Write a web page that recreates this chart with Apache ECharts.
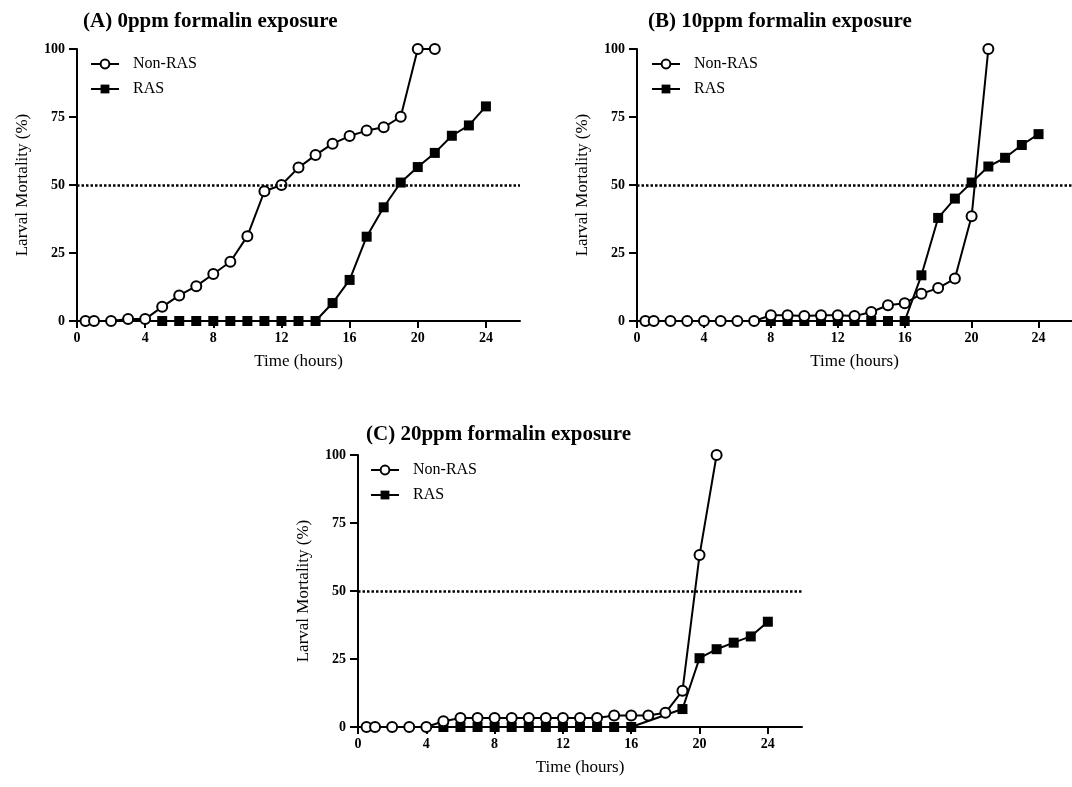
<!DOCTYPE html>
<html>
<head>
<meta charset="utf-8">
<script src="https://cdn.jsdelivr.net/npm/echarts@6/dist/echarts.min.js"></script>
<style>
html,body{margin:0;padding:0;background:#fff;}
#chart{width:1072px;height:787px;}
</style>
</head>
<body>
<div id="chart"></div>
<script>
// ---- data ----
const panelTitles = ['(A) 0ppm formalin exposure', '(B) 10ppm formalin exposure', '(C) 20ppm formalin exposure'];
const seriesNames = ['Non-RAS', 'RAS'];
const xTickValues = [0, 4, 8, 12, 16, 20, 24];
const yTickValues = [0, 25, 50, 75, 100];
const thresholdLevel = 50;

const hoursNonRAS = [0.5, 1, 2, 3, 4, 5, 6, 7, 8, 9, 10, 11, 12, 13, 14, 15, 16, 17, 18, 19, 20, 21];

const hoursRAS_A = [5, 6, 7, 8, 9, 10, 11, 12, 13, 14, 15, 16, 17, 18, 19, 20, 21, 22, 23, 24];
const nonRAS_A = [0, 0, 0, 0.7, 0.7, 5.2, 9.4, 12.8, 17.3, 21.8, 31.2, 47.7, 50, 56.4, 61, 65.2, 68, 70, 71.2, 75.1, 100, 100];
const ras_A = [0, 0, 0, 0, 0, 0, 0, 0, 0, 0, 6.6, 15.1, 31, 41.8, 50.9, 56.6, 61.8, 68.1, 71.9, 78.9];

const hoursRAS_B = [8, 9, 10, 11, 12, 13, 14, 15, 16, 17, 18, 19, 20, 21, 22, 23, 24];
const nonRAS_B = [0, 0, 0, 0, 0, 0, 0, 0, 2.1, 2.1, 1.8, 2.1, 2.1, 1.8, 3.3, 5.8, 6.5, 10, 12.1, 15.6, 38.5, 100];
const ras_B = [0, 0, 0, 0, 0, 0, 0, 0, 0, 16.8, 37.9, 45, 50.9, 56.8, 60, 64.7, 68.7];

const hoursRAS_C = [5, 6, 7, 8, 9, 10, 11, 12, 13, 14, 15, 16, 17, 18, 19, 20, 21, 22, 23, 24];
const nonRAS_C = [0, 0, 0, 0, 0, 2.1, 3.3, 3.3, 3.3, 3.3, 3.3, 3.3, 3.3, 3.3, 3.3, 4.2, 4.2, 4.2, 5.2, 13.3, 63.2, 100];
const ras_C = [0, 0, 0, 0, 0, 0, 0, 0, 0, 0, 0, 0, null, null, 6.6, 25.3, 28.6, 31, 33.3, 38.7];

// ---- build ----
const FONT = '"Liberation Serif", "DejaVu Serif", serif';
const zip = (xs, ys) => xs.map((x, i) => [x, ys[i]]);

const panels = [
  { nonX: hoursNonRAS, nonY: nonRAS_A, rasX: hoursRAS_A, rasY: ras_A },
  { nonX: hoursNonRAS, nonY: nonRAS_B, rasX: hoursRAS_B, rasY: ras_B },
  { nonX: hoursNonRAS, nonY: nonRAS_C, rasX: hoursRAS_C, rasY: ras_C }
];

const grids = [
  { left: 77, top: 49, right: 552, bottom: 466 },
  { left: 637, top: 49, right: -11, bottom: 466 },
  { left: 358, top: 455, right: 270, bottom: 60 }
];
const titlePos = [
  { left: 83, top: 11 },
  { left: 648, top: 11 },
  { left: 366, top: 424 }
];
const legendPos = [
  { left: 90, top: 56 },
  { left: 651, top: 56 },
  { left: 370, top: 462 }
];

const option = {
  backgroundColor: '#fff',
  animation: false,
  title: panelTitles.map((t, i) => ({
    text: t,
    left: titlePos[i].left, top: titlePos[i].top,
    padding: 0,
    textStyle: { fontFamily: FONT, fontSize: 21, fontWeight: 'bold', color: '#000' }
  })),
  legend: legendPos.map((p, i) => ({
    data: seriesNames,
    orient: 'vertical',
    left: p.left, top: p.top,
    padding: 0,
    itemWidth: 28, itemHeight: 11, itemGap: 9,
    selectedMode: false,
    textStyle: { fontFamily: FONT, fontSize: 16, color: '#000', padding: [0, 0, 0, 9] }
  })),
  grid: grids,
  xAxis: grids.map((g, i) => ({
    type: 'value', gridIndex: i, min: 0, max: 26,
    name: 'Time (hours)', nameLocation: 'middle', nameGap: 32,
    nameTextStyle: { fontFamily: FONT, fontSize: 17, color: '#000' },
    axisLine: { show: true, onZero: false, lineStyle: { color: '#000', width: 2 } },
    axisTick: { show: true, inside: false, length: 7, lineStyle: { color: '#000', width: 2 }, customValues: xTickValues },
    axisLabel: { fontFamily: FONT, fontSize: 14, fontWeight: 'bold', color: '#000', margin: 10, customValues: xTickValues },
    splitLine: { show: false }
  })),
  yAxis: grids.map((g, i) => ({
    type: 'value', gridIndex: i, min: 0, max: 100, interval: 25,
    name: 'Larval Mortality (%)', nameLocation: 'middle', nameGap: 46,
    nameTextStyle: { fontFamily: FONT, fontSize: 17, color: '#000' },
    axisLine: { show: true, lineStyle: { color: '#000', width: 2 } },
    axisTick: { show: true, inside: false, length: 8, lineStyle: { color: '#000', width: 2 }, customValues: yTickValues },
    axisLabel: { fontFamily: FONT, fontSize: 14, fontWeight: 'bold', color: '#000', margin: 12, customValues: yTickValues },
    splitLine: { show: false }
  })),
  series: []
};

panels.forEach((p, i) => {
  option.series.push({
    name: 'RAS', type: 'line', xAxisIndex: i, yAxisIndex: i,
    data: zip(p.rasX, p.rasY),
    connectNulls: true,
    symbol: 'rect', symbolSize: 10,
    lineStyle: { color: '#000', width: 2 },
    itemStyle: { color: '#000', borderColor: '#000', borderWidth: 0 },
    z: 2,
    markLine: {
      silent: true, symbol: 'none', label: { show: false },
      lineStyle: { color: '#000', width: 2.5, type: [2.5, 2] },
      data: [{ yAxis: thresholdLevel }]
    }
  });
  option.series.push({
    name: 'Non-RAS', type: 'line', xAxisIndex: i, yAxisIndex: i,
    data: zip(p.nonX, p.nonY),
    symbol: 'circle', symbolSize: 10,
    lineStyle: { color: '#000', width: 2 },
    itemStyle: { color: '#fff', borderColor: '#000', borderWidth: 2 },
    z: 3
  });
});

const chart = echarts.init(document.getElementById('chart'), null, { renderer: 'canvas' });
chart.setOption(option);
</script>
</body>
</html>
